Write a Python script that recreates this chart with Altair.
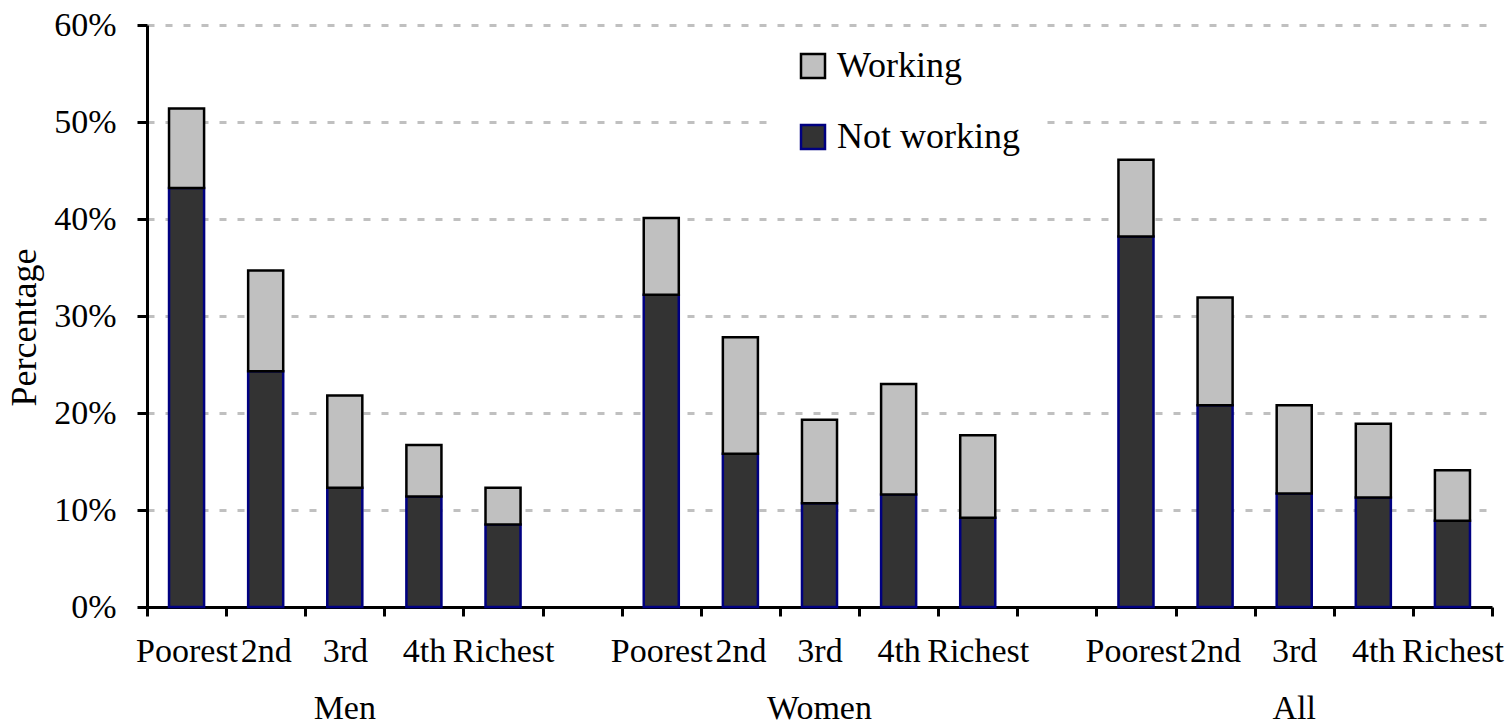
import altair as alt
import pandas as pd

groups = ["Men", "Women", "All"]
quintiles = ["Poorest", "2nd", "3rd", "4th", "Richest"]
statuses = ["Working", "Not working"]

not_working = {
    "Men":   [43.2, 24.3, 12.3, 11.4, 8.5],
    "Women": [32.2, 15.8, 10.7, 11.6, 9.2],
    "All":   [38.2, 20.8, 11.7, 11.3, 8.9],
}
working = {
    "Men":   [8.2, 10.4, 9.5, 5.3, 3.8],
    "Women": [7.9, 12.0, 8.6, 11.4, 8.5],
    "All":   [7.9, 11.1, 9.1, 7.6, 5.2],
}

ZW = "\u200b"  # zero-width space keeps the repeated quintile labels distinct
rows = []
domain = []
grp_keys = []
for gi, g in enumerate(groups):
    for qi, q in enumerate(quintiles):
        key = q + ZW * gi
        domain.append(key)
        if q == "3rd":
            grp_keys.append(key)
        rows.append({"key": key, "status": "Not working", "ord": 0, "value": not_working[g][qi] / 100})
        rows.append({"key": key, "status": "Working", "ord": 1, "value": working[g][qi] / 100})
    if gi < len(groups) - 1:
        domain.append(" " * (gi + 1))
df = pd.DataFrame(rows)
grp_df = pd.DataFrame({"key": grp_keys, "label": groups})

FONT = "Liberation Serif"
FS = 34
FS_BIG = 36

xscale = alt.Scale(domain=domain, paddingInner=0, paddingOuter=0)

bars = alt.Chart(df).mark_bar(strokeWidth=2.5, width=alt.RelativeBandSize(0.443)).encode(
    x=alt.X("key:N", scale=xscale, sort=domain,
            axis=alt.Axis(title=None, labelAngle=0, tickBand="extent", tickSize=9,
                          tickWidth=3, domainWidth=3, domainColor="black", tickColor="black",
                          labelFont=FONT, labelFontSize=FS, labelColor="black", labelPadding=18,
                          grid=False)),
    y=alt.Y("value:Q", stack="zero",
            scale=alt.Scale(domain=[0, 0.6], nice=False),
            axis=alt.Axis(title="Percentage", format=".0%", values=[0, 0.1, 0.2, 0.3, 0.4, 0.5, 0.6],
                          tickSize=10, tickWidth=3, domainWidth=3, domainColor="black", tickColor="black",
                          labelFont=FONT, labelFontSize=FS, labelColor="black", labelPadding=21,
                          titleFont=FONT, titleFontSize=FS_BIG, titleFontWeight="normal", titleColor="black",
                          titlePadding=10, titleY=302,
                          grid=True, gridColor="#c0c0c0", gridWidth=3, gridDash=[7, 11])),
    color=alt.Color("status:N", scale=alt.Scale(domain=statuses, range=["#c0c0c0", "#333333"]),
                    legend=alt.Legend(title=None, orient="none", legendX=628, legendY=3,
                                      fillColor="white", padding=20, rowPadding=35,
                                      symbolType="square", symbolSize=576, symbolStrokeWidth=2.5,
                                      labelFont=FONT, labelFontSize=FS_BIG, labelColor="black",
                                      labelOffset=6, labelLimit=400)),
    stroke=alt.Stroke("status:N", scale=alt.Scale(domain=statuses, range=["black", "#000080"]),
                      legend=None),
    order=alt.Order("ord:Q", sort="ascending"),
)

grp = alt.Chart(grp_df).mark_text(font=FONT, fontSize=FS, color="black", baseline="alphabetic").encode(
    x=alt.X("key:N", scale=xscale, sort=domain),
    y=alt.value(694),
    text="label:N",
)

chart = alt.layer(bars, grp).properties(
    width=1345, height=582,
    autosize=alt.AutoSizeParams(type="none"),
    padding={"left": 147, "top": 25, "right": 13, "bottom": 120},
    background="white",
).configure_view(stroke=None)

chart.save("out.html", embed_options={"renderer": "svg", "actions": False})
